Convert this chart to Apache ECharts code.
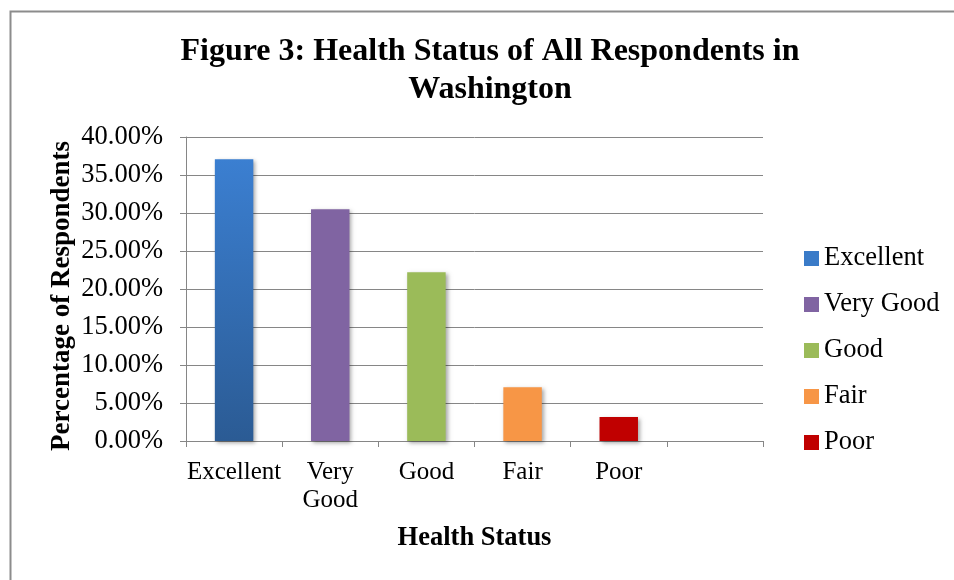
<!DOCTYPE html>
<html>
<head>
<meta charset="utf-8">
<script src="https://cdn.jsdelivr.net/npm/echarts@6/dist/echarts.min.js"></script>
<style>
html,body{margin:0;padding:0;background:#fff;}
#chart{width:954px;height:580px;}
</style>
</head>
<body>
<div id="chart"></div>
<script>
const categories = ['Excellent', 'Very Good', 'Good', 'Fair', 'Poor', ''];
const seriesNames = ['Excellent', 'Very Good', 'Good', 'Fair', 'Poor'];
const values = [37.07, 30.49, 22.2, 7.07, 3.16];
const yTicks = { min: 0, max: 40, interval: 5 };
const yAxisTitle = 'Percentage of Respondents';

const FONT = '"Liberation Serif", "Times New Roman", serif';
const colors = [
  new echarts.graphic.LinearGradient(0, 0, 0, 1, [
    { offset: 0, color: '#3b7fd1' },
    { offset: 1, color: '#2b5b94' }
  ]),
  '#8064a2', '#9bbb59', '#f79646', '#c00000'
];
const legendColors = ['#3a7bc8', '#8064a2', '#9bbb59', '#f79646', '#c00000'];

const series = seriesNames.map((name, i) => ({
  name: name,
  type: 'bar',
  stack: 'all',
  barWidth: '40%',
  data: categories.map((c, j) => (j === i ? values[i] : '-')),
  itemStyle: {
    color: colors[i],
    shadowBlur: 4,
    shadowOffsetX: 2,
    shadowOffsetY: 2,
    shadowColor: 'rgba(0,0,0,0.35)'
  }
}));

const chart = echarts.init(document.getElementById('chart'), null, { renderer: 'canvas' });
chart.setOption({
  animation: false,
  backgroundColor: '#fff',
  title: {
    text: 'Figure 3: Health Status of All Respondents in\nWashington',
    left: 485,
    top: 28,
    textAlign: 'center',
    textStyle: { fontFamily: FONT, fontWeight: 'bold', fontSize: 32, lineHeight: 38, color: '#000' }
  },
  graphic: [{
    type: 'rect',
    shape: { x: 10.5, y: 11.5, width: 1000, height: 700 },
    style: { fill: 'none', stroke: '#8c8c8c', lineWidth: 2 },
    silent: true, z: -1
  }, {
    type: 'text',
    x: 62,
    y: 296,
    rotation: Math.PI / 2,
    style: {
      text: yAxisTitle,
      fontFamily: FONT, fontWeight: 'bold', fontSize: 27, fill: '#000',
      align: 'center', verticalAlign: 'middle'
    }
  }],
  legend: {
    orient: 'vertical',
    left: 799,
    top: 240,
    itemWidth: 15,
    itemHeight: 15,
    itemGap: 19,
    icon: 'rect',
    textStyle: { fontFamily: FONT, fontSize: 26.5, color: '#000' },
    data: seriesNames.map((n, i) => ({ name: n, itemStyle: { color: legendColors[i] } }))
  },
  grid: { left: 186, right: 191, top: 137, bottom: 139, containLabel: false },
  xAxis: {
    type: 'category',
    data: categories,
    name: 'Health Status',
    nameLocation: 'middle',
    nameGap: 84,
    nameTextStyle: { fontFamily: FONT, fontWeight: 'bold', fontSize: 26.5, color: '#000' },
    axisLine: { lineStyle: { color: '#868686', width: 1 } },
    axisTick: { show: true, length: 6, inside: false, alignWithLabel: false, lineStyle: { color: '#868686' } },
    axisLabel: {
      interval: 0,
      margin: 17,
      fontFamily: FONT, fontSize: 25, lineHeight: 28, color: '#000',
      formatter: v => v.replace(' ', '\n')
    }
  },
  yAxis: {
    type: 'value',
    min: yTicks.min,
    max: yTicks.max,
    interval: yTicks.interval,
    axisLine: { show: true, lineStyle: { color: '#868686', width: 1 } },
    axisTick: { show: true, length: 6, lineStyle: { color: '#868686' } },
    splitLine: { show: true, lineStyle: { color: '#868686', width: 1 } },
    axisLabel: {
      margin: 23,
      fontFamily: FONT, fontSize: 26.5, color: '#000',
      formatter: v => v.toFixed(2) + '%'
    }
  },
  series: series
});
</script>
</body>
</html>
